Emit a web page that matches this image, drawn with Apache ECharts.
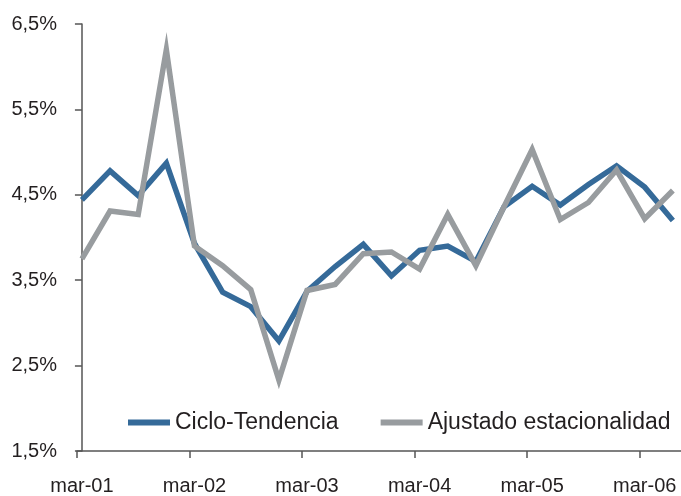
<!DOCTYPE html>
<html>
<head>
<meta charset="utf-8">
<script src="https://cdn.jsdelivr.net/npm/echarts@6/dist/echarts.min.js"></script>
<style>
  html, body { margin: 0; padding: 0; background: #fff; }
  #chart { width: 681px; height: 496px; }
</style>
</head>
<body>
<div id="chart"></div>
<script>
// quarterly points, first at index 0 (mar-01)
var tickLabels = ['mar-01', 'mar-02', 'mar-03', 'mar-04', 'mar-05', 'mar-06']
var labelIndex = [0, 4, 8, 12, 16, 20]
var cicloTendencia = [4.44, 4.78, 4.49, 4.87, 3.93, 3.36, 3.19, 2.79, 3.37, 3.66, 3.92, 3.55,
  3.85, 3.9, 3.72, 4.36, 4.6, 4.38, 4.62, 4.84, 4.59, 4.2]
var ajustado = [3.75, 4.31, 4.27, 6.2, 3.9, 3.67, 3.39, 2.33, 3.38, 3.45, 3.81, 3.83,
  3.63, 4.27, 3.67, 4.36, 5.03, 4.21, 4.41, 4.79, 4.22, 4.55]

var font = "'Liberation Sans', Arial, Helvetica, sans-serif"
var textColor = '#231f20'
var axisColor = '#555555'
var xOffset = 0.175 // axis starts a bit before the first point

function pairs(arr) {
  return arr.map(function (v, i) { return [i, v] })
}

var chart = echarts.init(document.getElementById('chart'))
chart.setOption({
  animation: false,
  textStyle: { fontFamily: font },
  grid: { left: 77, right: -10, top: 24, bottom: 43, containLabel: false },
  legend: {
    left: 123,
    top: 406,
    itemGap: 42,
    itemWidth: 42,
    itemHeight: 6,
    icon: 'rect',
    textStyle: { fontFamily: font, fontSize: 23, color: textColor },
    data: ['Ciclo-Tendencia', 'Ajustado estacionalidad']
  },
  xAxis: {
    type: 'value',
    min: -xOffset,
    max: 21.29,
    splitLine: { show: false },
    axisLine: { show: true, lineStyle: { color: axisColor, width: 1.5 } },
    axisTick: {
      show: true,
      length: 7,
      lineStyle: { color: axisColor, width: 1.5 },
      customValues: labelIndex.map(function (i) { return i - xOffset })
    },
    axisLabel: {
      customValues: labelIndex,
      margin: 25,
      fontSize: 20,
      color: textColor,
      fontFamily: font,
      formatter: function (v) {
        var k = labelIndex.indexOf(Math.round(v))
        return k >= 0 ? tickLabels[k] : ''
      }
    }
  },
  yAxis: {
    type: 'value',
    min: 1.5,
    max: 6.5,
    interval: 1,
    splitLine: { show: false },
    axisLine: { show: true, lineStyle: { color: axisColor, width: 1.5 } },
    axisTick: { show: true, length: 7, lineStyle: { color: axisColor, width: 1.5 } },
    axisLabel: {
      margin: 20,
      fontSize: 20,
      color: textColor,
      fontFamily: font,
      formatter: function (v) {
        return v.toFixed(1).replace('.', ',') + '%'
      }
    }
  },
  series: [
    {
      name: 'Ciclo-Tendencia',
      type: 'line',
      symbol: 'none',
      data: pairs(cicloTendencia),
      itemStyle: { color: '#356a99' },
      lineStyle: { color: '#356a99', width: 5.5, join: 'miter' }
    },
    {
      name: 'Ajustado estacionalidad',
      type: 'line',
      symbol: 'none',
      data: pairs(ajustado),
      itemStyle: { color: '#989c9f' },
      lineStyle: { color: '#989c9f', width: 5.5, join: 'miter' }
    }
  ]
})
</script>
</body>
</html>
